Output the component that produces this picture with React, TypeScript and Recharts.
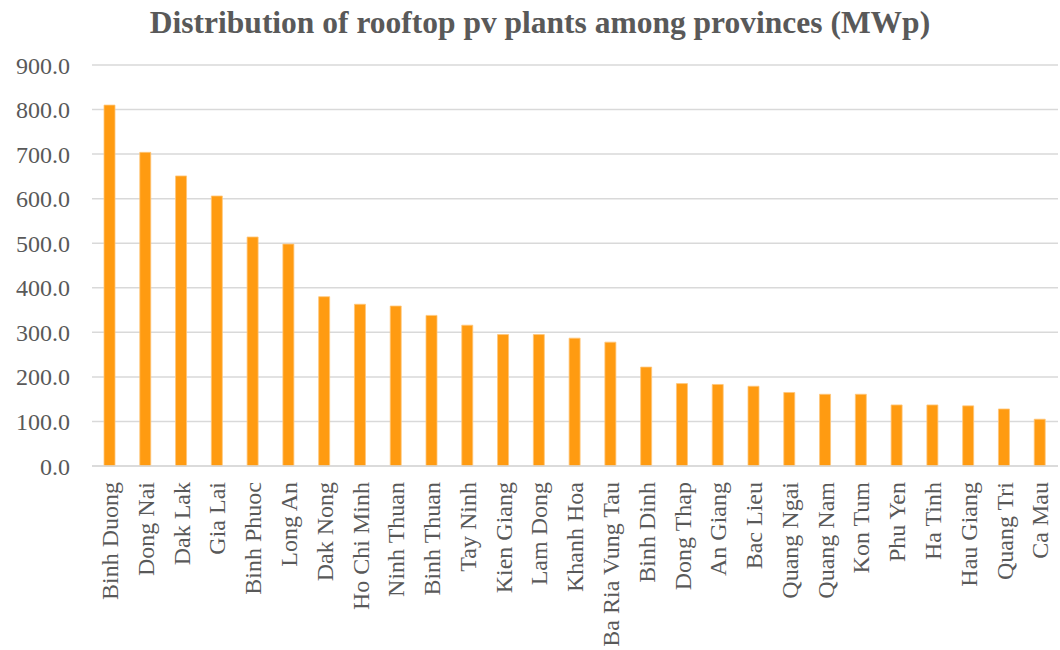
import React from "react";
import { BarChart, Bar, XAxis, YAxis, CartesianGrid } from "recharts";

const provinces = [
  "Binh Duong", "Dong Nai", "Dak Lak", "Gia Lai", "Binh Phuoc", "Long An", "Dak Nong",
  "Ho Chi Minh", "Ninh Thuan", "Binh Thuan", "Tay Ninh", "Kien Giang", "Lam Dong",
  "Khanh Hoa", "Ba Ria Vung Tau", "Binh Dinh", "Dong Thap", "An Giang", "Bac Lieu",
  "Quang Ngai", "Quang Nam", "Kon Tum", "Phu Yen", "Ha Tinh", "Hau Giang", "Quang Tri", "Ca Mau",
];
const capacityMWp = [
  810, 704, 651, 606, 514, 498, 380,
  363, 359, 338, 316, 295, 295,
  287, 278, 222, 185, 183, 179,
  165, 161, 161, 137, 137, 135, 128, 105,
];
const yTicks = [0, 100, 200, 300, 400, 500, 600, 700, 800, 900];

const data = provinces.map((name, i) => ({ name, value: capacityMWp[i] }));

const FONT = "'Liberation Serif', serif";
const TEXT = "#595959";

const XTick = (props: any) => {
  const { x, y, payload } = props;
  return (
    <g transform={`translate(${x},${y + 8})`}>
      <text
        transform="rotate(-90)"
        textAnchor="end"
        dy="0.34em"
        fill={TEXT}
        fontSize={24}
        fontFamily={FONT}
      >
        {payload.value}
      </text>
    </g>
  );
};

export default function App() {
  return (
    <div style={{ position: "absolute", left: 0, top: 0, width: 1060, height: 650, background: "#fff" }}>
      <svg width={1060} height={50} style={{ position: "absolute", left: 0, top: 0 }}>
        <text
          x={540}
          y={33}
          textAnchor="middle"
          fontFamily={FONT}
          fontWeight="bold"
          fontSize={31.5}
          fill={TEXT}
        >
          Distribution of rooftop pv plants among provinces (MWp)
        </text>
      </svg>
      <BarChart
        width={1060}
        height={650}
        data={data}
        margin={{ top: 65, right: 2, left: 0, bottom: 0 }}
        style={{ position: "absolute", left: 0, top: 0 }}
      >
        <CartesianGrid vertical={false} stroke="#d9d9d9" strokeWidth={1.5} />
        <XAxis
          dataKey="name"
          interval={0}
          height={184}
          tickLine={false}
          axisLine={{ stroke: "#d9d9d9", strokeWidth: 1.5 }}
          tick={<XTick />}
        />
        <YAxis
          width={92}
          domain={[0, 900]}
          ticks={yTicks}
          tickFormatter={(v: number) => v.toFixed(1)}
          tickLine={false}
          axisLine={false}
          tickMargin={16}
          tick={{ fill: TEXT, fontSize: 24, fontFamily: FONT }}
        />
        <Bar
          dataKey="value"
          fill="#FF9B11"
          stroke="#FFC77A"
          strokeWidth={0.8}
          barSize={11}
          isAnimationActive={false}
        />
      </BarChart>
    </div>
  );
}
